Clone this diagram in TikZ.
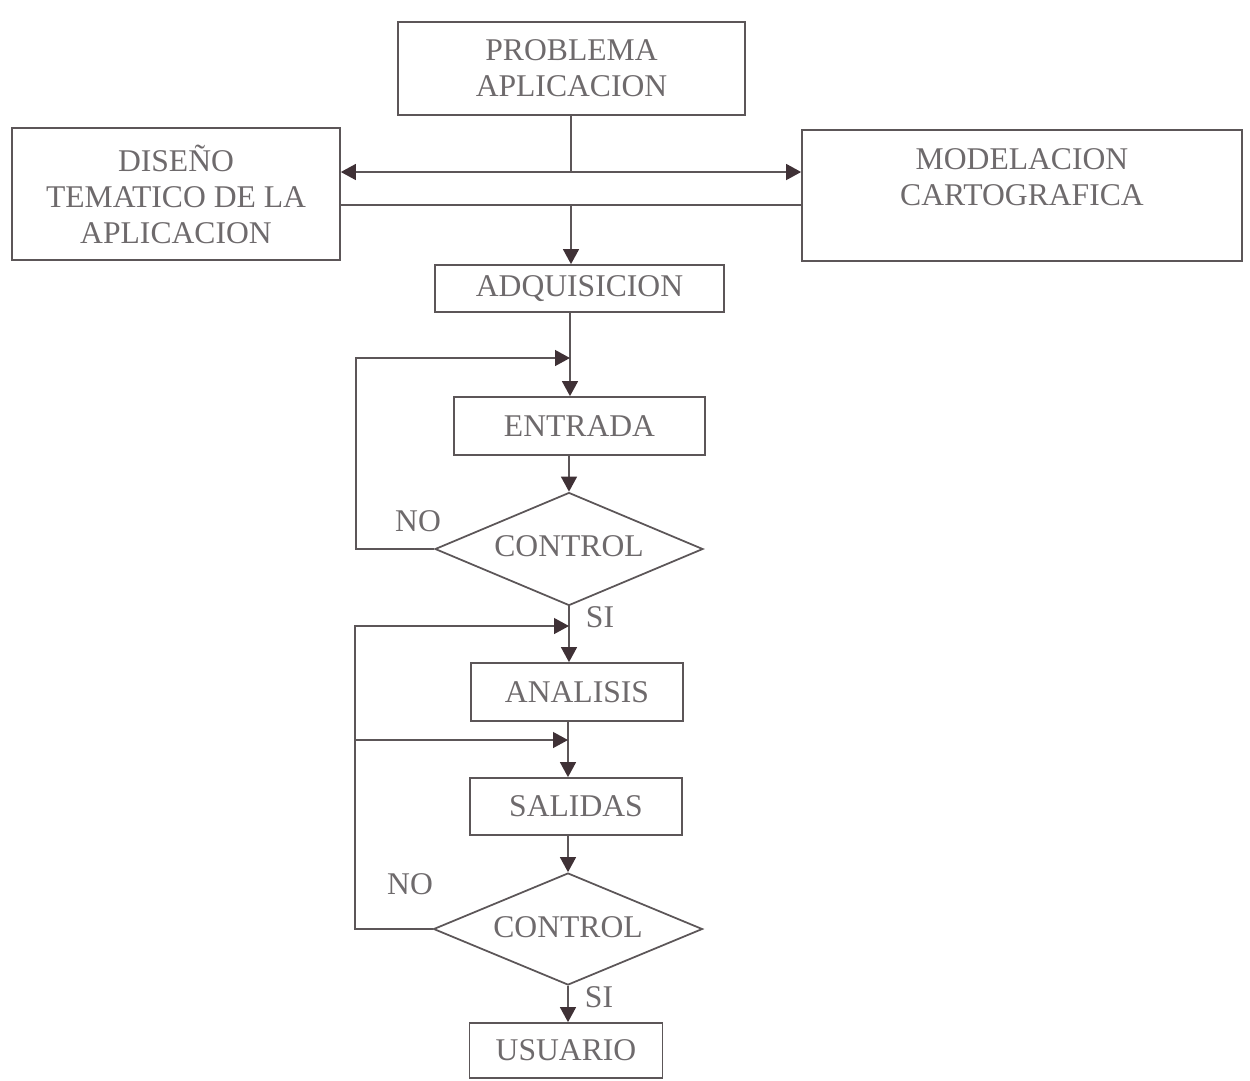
\documentclass[tikz,border=0pt]{standalone}
\usepackage{fontspec}
\setmainfont{Liberation Serif}
\usetikzlibrary{arrows.meta,shapes.geometric}
\definecolor{linec}{HTML}{5C5658}
\definecolor{textc}{HTML}{6E6A6C}
\definecolor{tipc}{HTML}{3F3136}
\tikzset{
  every node/.style={font=\fontsize{18}{20.5}\selectfont, text=textc},
  box/.style={draw=linec, line width=1pt, rectangle, inner sep=0pt, align=center},
  decision/.style={draw=linec, line width=1pt, diamond, inner sep=0pt, shape aspect=2.37,
    minimum width=5.36cm, minimum height=2.26cm},
  conn/.style={draw=linec, line width=1pt},
  arr/.style={conn, -{Triangle[length=8.5pt,width=9pt,color=tipc]}},
  lbl/.style={inner sep=0pt}
}
\begin{document}
\begin{tikzpicture}[x=0.02cm,y=-0.02cm]
\useasboundingbox (0,0) rectangle (1250,1080);
% boxes
\node[box, minimum width=6.94cm, minimum height=1.86cm] (prob) at (571.5,68.5) {PROBLEMA\\APLICACION};
\node[box, minimum width=6.56cm, minimum height=2.64cm] (dis) at (176,194) {DISEÑO\\TEMATICO DE LA\\APLICACION};
\node[box, minimum width=8.8cm, minimum height=2.62cm] (mod) at (1022,195.5) {MODELACION\\CARTOGRAFICA\\\mbox{}};
\node[box, minimum width=5.78cm, minimum height=0.94cm] (adq) at (579.5,288.5) {ADQUISICION};
\node[box, minimum width=5.02cm, minimum height=1.16cm] (ent) at (579.5,426) {ENTRADA};
\node[decision] (c1) at (569,549) {\raisebox{3pt}{CONTROL}};
\node[box, minimum width=4.24cm, minimum height=1.16cm] (ana) at (577,692) {ANALISIS};
\node[box, minimum width=4.24cm, minimum height=1.14cm] (sal) at (576,806.5) {SALIDAS};
\node[decision, minimum width=5.38cm, minimum height=2.24cm] (c2) at (568,929) {\raisebox{2pt}{CONTROL}};
\node[box, minimum width=3.86cm, minimum height=1.1cm] (usu) at (566,1050.5) {USUARIO};
% labels
\node[lbl] (no1) at (418,521) {NO};
\node[lbl] (si1) at (600,617) {SI};
\node[lbl] (no2) at (410,884) {NO};
\node[lbl] (si2) at (599,997) {SI};
% junction coordinates
\coordinate (j1) at (571,172);
\coordinate (j2) at (571,205);
\coordinate (j3) at (570,358);
\coordinate (j4) at (569,626);
\coordinate (j5) at (568,740);
\coordinate (l1) at (356,549);
\coordinate (l2) at (355,929);
% top connectors
\draw[conn] (prob.south -| j1) -- (j1);
\draw[arr] (j1) -- (j1 -| dis.east);
\draw[arr] (j1) -- (j1 -| mod.west);
\draw[conn] (j2 -| dis.east) -- (j2 -| mod.west);
\draw[arr] (j2) -- (j2 |- adq.north);
% first loop
\draw[conn] (adq.south -| j3) -- (j3);
\draw[arr] (j3) -- (j3 |- ent.north);
\draw[arr] (ent.south -| c1.north) -- (c1.north);
\draw[arr] (c1.west) -- (l1) -- (l1 |- j3) -- (j3);
% second part
\draw[conn] (c1.south) -- (j4);
\draw[arr] (j4) -- (j4 |- ana.north);
\draw[conn] (ana.south -| j5) -- (j5);
\draw[arr] (j5) -- (j5 |- sal.north);
\draw[arr] (sal.south -| c2.north) -- (c2.north);
\draw[arr] (c2.west) -- (l2) -- (l2 |- j4) -- (j4);
\draw[arr] (l2 |- j5) -- (j5);
\draw[arr] (c2.south) -- (c2.south |- usu.north);
\end{tikzpicture}
\end{document}
